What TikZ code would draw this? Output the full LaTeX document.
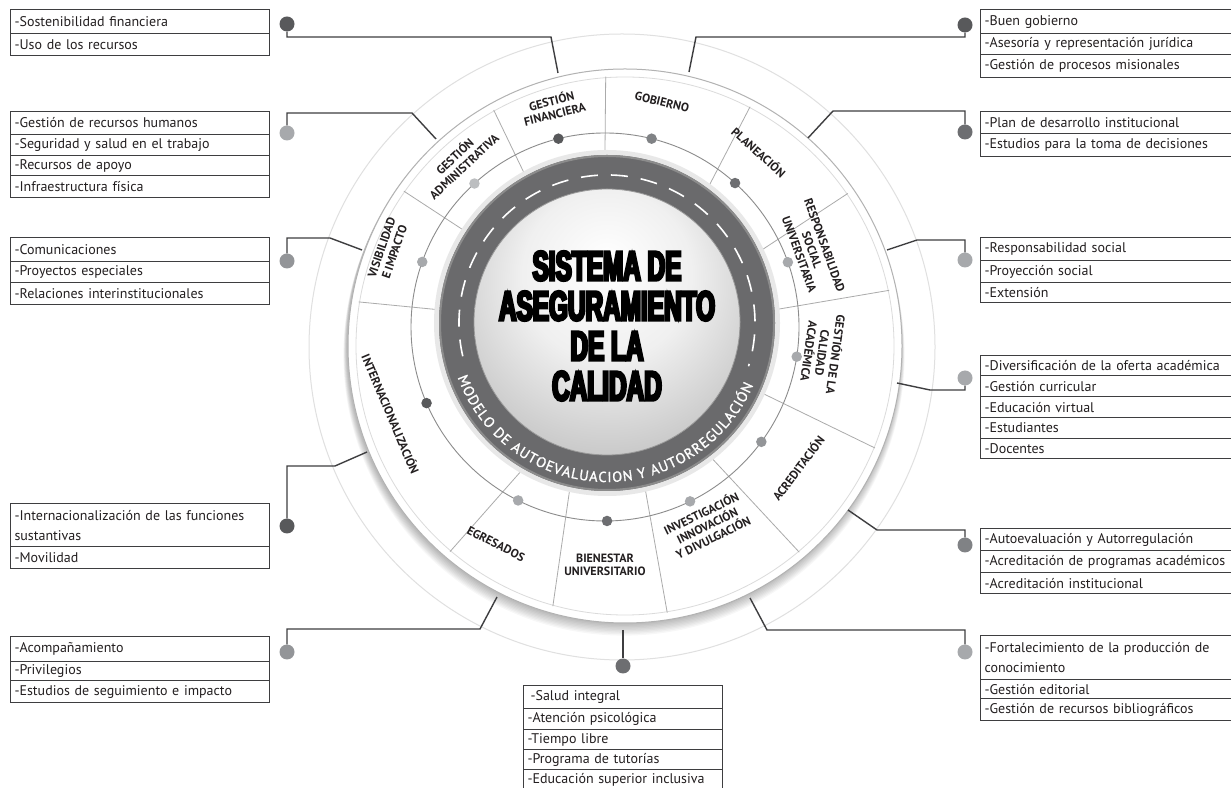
\documentclass[tikz,border=0pt]{standalone}
\usepackage{fontspec}
\setmainfont{PT Sans}
\newfontfamily\titlefont[FakeStretch=0.58,FakeBold=6]{Liberation Sans}
\newfontfamily\ringfont[FakeBold=1.3]{PT Sans}
\usetikzlibrary{decorations.text}
\definecolor{cA}{HTML}{58595B}
\definecolor{cB}{HTML}{6D6E71}
\definecolor{cC}{HTML}{808285}
\definecolor{cD}{HTML}{939598}
\definecolor{cE}{HTML}{A7A9AC}
\definecolor{cF}{HTML}{BCBEC0}
\definecolor{ringc}{HTML}{6A6A6C}
\definecolor{linec}{HTML}{3E3E40}
\definecolor{txtc}{HTML}{231F20}
\pgfdeclareradialshading{sphereshade}{\pgfpoint{0bp}{12bp}}{color(0bp)=(white); color(16bp)=(black!6); color(36bp)=(black!26); color(50bp)=(black!44); color(62bp)=(black!52)}
\pgfdeclareradialshading{discshade}{\pgfpoint{5bp}{7bp}}{color(0bp)=(white); color(34bp)=(white); color(45bp)=(black!8); color(52bp)=(black!22); color(60bp)=(black!40)}
\newcommand\segf{\fontsize{12}{13.5}\selectfont\bfseries}
\newcommand\boxf{\fontsize{14}{20}\selectfont}
\begin{document}
\begin{tikzpicture}[x=1pt,y=1pt,
  conn/.style={draw=linec, line width=1.4pt},
  odot/.style={circle, inner sep=0pt, minimum size=15pt, fill=#1},
  idot/.style={circle, inner sep=0pt, minimum size=10.5pt, fill=#1},
  row/.style={draw=linec, line width=1.1pt, anchor=north west, minimum width=259pt, text width=251pt, inner xsep=4pt, inner ysep=0pt, align=left, font=\boxf, text=txtc},
  rrow/.style={row, minimum width=262pt, text width=254pt},
  brow/.style={row, minimum width=199pt, text width=191pt},
  seg/.style={font=\segf, align=center, inner sep=0pt, text=txtc},
  divider/.style={draw=black!33, line width=0.8pt}]
\fill[white] (0,0) rectangle (1231,787);
\useasboundingbox (0,0) rectangle (1231,787);
% faint outer circle
\draw[black!12, line width=1pt] (622,440) circle (313pt);
% shadow
\foreach \i in {1,...,9} \fill[black, opacity=0.03] (624,{441-\i}) circle[radius={(277+0.4*\i)*1pt}];
% disc
\shade[shading=discshade] (625,441) circle (277pt);
\draw[black!30, line width=1pt] (625,441) circle (277pt);
\draw[black!14, line width=0.8pt] (625,441) circle (269pt);
% dividers
\foreach \a/\b in {90.7/94.1, 53.2/62.4, 25.1/34.4, 4.5/11.9, -24.3/-22.2, -52.3/-49.8, -77/-81, 257.3/254.5, 240.1/229.6, 175.5/170.6, 147.1/145, 119/119.1}
  \draw[divider] ([shift={(\a:168pt)}]607,464) -- ([shift={(\b:270pt)}]625,441);
% dot circle
\draw[black!45, line width=0.9pt] (605,460) circle (194pt);
% ring
\fill[black!9] (607,464) circle (173pt);
\fill[ringc] (607,464) circle (168pt);
\draw[black!45, line width=2pt] (607,464) circle (167pt);
\shade[shading=sphereshade] (607,465) circle (133pt);
\draw[black!40, line width=0.8pt] (607,465) circle (133pt);
\draw[white, line width=1.6pt, dash pattern=on 17pt off 13pt] ([shift={(193:148pt)}]607,464) arc (193:-17:148pt);
\path[decorate, decoration={text along path, text={|\ringfont\fontsize{14.5}{14.5}\selectfont\color{white}|MODELO DE AUTOEVALUACION Y AUTORREGULACIÓN}, text align={fit to path}}] ([shift={(200:159pt)}]607,464) arc (200:337:159pt);
% title
\node[align=center, font=\titlefont\bfseries\fontsize{42}{40}\selectfont] (title) at (607,461) {SISTEMA DE\\ASEGURAMIENTO\\DE LA\\CALIDAD};
% segment labels
\node[seg, rotate=14] (lGF) at (553,680) {GESTIÓN\\FINANCIERA};
\node[seg, rotate=-14] (lGOB) at (662,685) {GOBIERNO};
\node[seg, rotate=-42] (lPLAN) at (759,635) {PLANEACIÓN};
\node[seg, rotate=-70] (lRSU) at (812,537) {RESPONSABILIDAD\\SOCIAL\\UNIVERSITARIA};
\node[seg, rotate=-98] (lGCA) at (823,434) {GESTIÓN DE LA\\CALIDAD\\ACADÉMICA};
\node[seg, rotate=53] (lACR) at (798,319) {ACREDITACIÓN};
\node[seg, rotate=26] (lINV) at (707,262) {INVESTIGACIÓN\\INNOVACIÓN\\Y DIVULGACIÓN};
\node[seg] (lBIEN) at (605,222) {BIENESTAR\\UNIVERSITARIO};
\node[seg, rotate=-27] (lEGR) at (496,243) {EGRESADOS};
\node[seg, rotate=-67] (lINT) at (391,373) {INTERNACIONALIZACIÓN};
\node[seg, rotate=71] (lVIS) at (388,537) {VISIBILIDAD\\E IMPACTO};
\node[seg, rotate=43] (lADM) at (459,626) {GESTIÓN\\ADMINISTRATIVA};
% inner dots
\foreach \a/\c [count=\k] in {103.9/cA, 76.1/cC, 47.9/cB, 19.5/cE, -8.8/cE, -36.3/cD, -64/cE, -89.4/cB, -116.6/cE, 203.1/cA, 160.4/cE, 132.3/cF}
  \node[idot=\c] (i\k) at ([shift={(\a:194pt)}]605,460) {};
% outer dots
\node[odot=cA] (d1) at (287,763) {};
\node[odot=cE] (d2) at (287,654) {};
\node[odot=cD] (d3) at (287,526) {};
\node[odot=cA] (d4) at (287,261) {};
\node[odot=cD] (d5) at (287,135) {};
\node[odot=cB] (d6) at (623,121) {};
\node[odot=cA] (d7) at (965,762) {};
\node[odot=cB] (d8) at (965,655) {};
\node[odot=cE] (d9) at (965,527) {};
\node[odot=cE] (d10) at (965,409) {};
\node[odot=cC] (d11) at (965,242) {};
\node[odot=cE] (d12) at (965,135) {};
% connector ends on the disc
\coordinate (e1) at (558,714);
\coordinate (e2) at (436,648);
\coordinate (e3) at (362,537);
\coordinate (e4) at (367,335);
\coordinate (e5) at (497,190);
\coordinate (e6) at (623,157);
\coordinate (e7) at (689,715);
\coordinate (e8) at (808,649);
\coordinate (e9) at (887,537);
\coordinate (e10) at (897,404);
\coordinate (e11) at (848,277);
\coordinate (e12) at (750,189);
\draw[conn] (e1) -- (551,750) -| (d1);
\draw[conn] (e2) -- (412,674) -| (d2);
\draw[conn] (e3) -- (330,549) -| (d3);
\draw[conn] (e4) -- (335,321) -| (d4);
\draw[conn] (e5) -- (480,158) -| (d5);
\draw[conn] (e6) -- (d6);
\draw[conn] (e7) -- (696,750) -| (d7);
\draw[conn] (e8) -- (833,676) -| (d8);
\draw[conn] (e9) -- (917,547) -| (d9);
\draw[conn] (e10) -- (930,397) -| (d10);
\draw[conn] (e11) -- (877,257) -| (d11);
\draw[conn] (e12) -- (767,157) -| (d12);
% left boxes
\node[row, minimum height=24pt] (b1a) at (10,778) {-Sostenibilidad financiera};
\node[row, minimum height=22pt] (b1b) at (10,754) {-Uso de los recursos};
\node[row, minimum height=23pt] (b2a) at (10,676) {-Gestión de recursos humanos};
\node[row, minimum height=21pt] (b2b) at (10,653) {-Seguridad y salud en el trabajo};
\node[row, minimum height=20pt] (b2c) at (10,632) {-Recursos de apoyo};
\node[row, minimum height=22pt] (b2d) at (10,612) {-Infraestructura física};
\node[row, minimum height=24pt] (b3a) at (10,550) {-Comunicaciones};
\node[row, minimum height=21pt] (b3b) at (10,526) {-Proyectos especiales};
\node[row, minimum height=22pt] (b3c) at (10,505) {-Relaciones interinstitucionales};
\node[row, minimum height=43pt] (b4a) at (10,284) {-Internacionalización de las funciones\\sustantivas};
\node[row, minimum height=22pt] (b4b) at (10,241) {-Movilidad};
\node[row, minimum height=25pt] (b5a) at (10,151) {-Acompañamiento};
\node[row, minimum height=19pt] (b5b) at (10,126) {-Privilegios};
\node[row, minimum height=22pt] (b5c) at (10,107) {-Estudios de seguimiento e impacto};
% bottom box
\node[brow, minimum height=23pt] (b6a) at (523,102) {\hspace{3pt}-Salud integral};
\node[brow, minimum height=21pt] (b6b) at (523,79) {-Atención psicológica};
\node[brow, minimum height=20pt] (b6c) at (523,58) {-Tiempo libre};
\node[brow, minimum height=20pt] (b6d) at (523,38) {-Programa de tutorías};
\node[brow, minimum height=21pt] (b6e) at (523,18) {-Educación superior inclusiva};
% right boxes
\node[rrow, minimum height=24pt] (b7a) at (980,778) {-Buen gobierno};
\node[rrow, minimum height=21pt] (b7b) at (980,754) {-Asesoría y representación jurídica};
\node[rrow, minimum height=23pt] (b7c) at (980,733) {-Gestión de procesos misionales};
\node[rrow, minimum height=22pt] (b8a) at (980,676) {-Plan de desarrollo institucional};
\node[rrow, minimum height=23pt] (b8b) at (980,654) {-Estudios para la toma de decisiones};
\node[rrow, minimum height=23pt] (b9a) at (980,550) {-Responsabilidad social};
\node[rrow, minimum height=22pt] (b9b) at (980,527) {-Proyección social};
\node[rrow, minimum height=20pt] (b9c) at (980,505) {-Extensión};
\node[rrow, minimum height=20pt] (b10a) at (980,432) {-Diversificación de la oferta académica};
\node[rrow, minimum height=21pt] (b10b) at (980,412) {-Gestión curricular};
\node[rrow, minimum height=21pt] (b10c) at (980,391) {-Educación virtual};
\node[rrow, minimum height=21pt] (b10d) at (980,370) {-Estudiantes};
\node[rrow, minimum height=20pt] (b10e) at (980,349) {-Docentes};
\node[rrow, minimum height=22pt] (b11a) at (980,259) {-Autoevaluación y Autorregulación};
\node[rrow, minimum height=22pt] (b11b) at (980,237) {-Acreditación de programas académicos};
\node[rrow, minimum height=21pt] (b11c) at (980,215) {-Acreditación institucional};
\node[rrow, minimum height=44pt] (b12a) at (980,152) {-Fortalecimiento de la producción de\\conocimiento};
\node[rrow, minimum height=19pt] (b12b) at (980,108) {-Gestión editorial};
\node[rrow, minimum height=22pt] (b12c) at (980,89) {-Gestión de recursos bibliográficos};
\end{tikzpicture}
\end{document}
